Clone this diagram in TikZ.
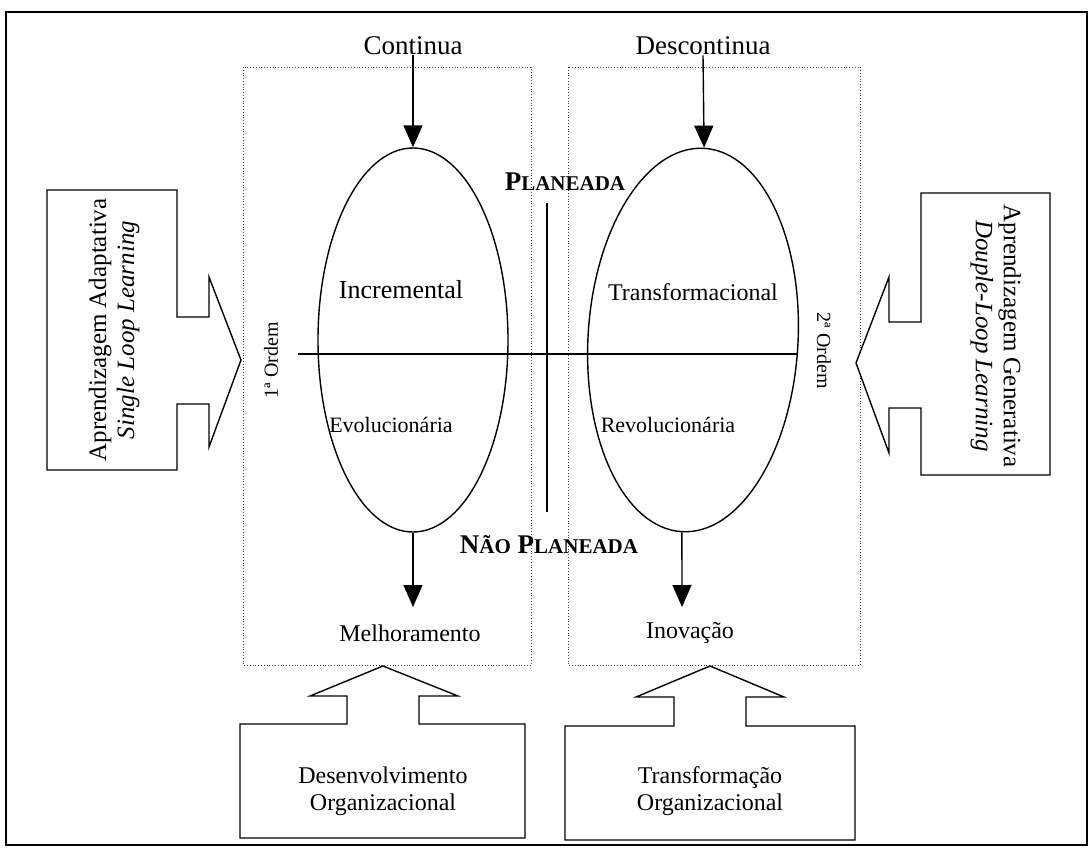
\documentclass[tikz,border=0pt]{standalone}
\usepackage{fontspec}
\setmainfont{Liberation Serif}
\usetikzlibrary{arrows.meta,shapes.geometric}
\begin{document}
\begin{tikzpicture}[x=1pt,y=-1pt,
  lbl/.style={font=\fontsize{24}{27}\selectfont, inner sep=0pt, align=center},
  big/.style={font=\fontsize{27}{30}\selectfont, inner sep=0pt},
  small/.style={font=\fontsize{20}{22}\selectfont, inner sep=0pt},
  zone/.style={draw=black!75, dotted, line width=0.8pt},
  oval/.style={ellipse, draw, line width=1.4pt, inner sep=0pt,
    minimum width=190pt, minimum height=384pt},
  flow/.style={line width=1.4pt, -{Triangle[length=22pt,width=19pt]}},
  block/.style={draw, line width=1.4pt, fill=white, line join=miter},
  axis/.style={line width=2pt}
]
\useasboundingbox (0,0) rectangle (1088,849);
\fill[white] (0,0) rectangle (1088,849);

% outer frame
\draw[line width=1.8pt] (6,12) rectangle (1087,845);

% the two dotted zones
\draw[zone] (243,67) rectangle (531,665);
\draw[zone] (568,67) rectangle (860,665);

% change type labels
\node[big] (cont) at (413,46) {Continua};
\node[big] (desc) at (703,46) {Descontinua};

% the two ovals
\node[oval] (le) at (413,340) {};
\node[oval, minimum width=210pt, rotate=-3.3] (re) at (693,340) {};

\draw[flow] (cont.south) -- (le.north);
\draw[flow] (desc.south) -- (re.north);

% labels inside the ovals
\node[lbl, font=\fontsize{26}{28}\selectfont] (inc) at (401,290) {Incremental};
\node[lbl, font=\fontsize{22}{24}\selectfont] (evo) at (391,425) {Evolucionária};
\node[lbl] (tra) at (693,292) {Transformacional};
\node[lbl, font=\fontsize{22}{24}\selectfont] (rev) at (668,425) {Revolucionária};

% order axis
\coordinate (axL) at (298,354);
\coordinate (axR) at (797,354);
\draw[axis] (axL) -- (axR);
\node[small, rotate=90] (o1) at (271,360) {1ª Ordem};
\node[small, rotate=-90] (o2) at (824,351) {2ª Ordem};

% planned / unplanned divider
\coordinate (pvT) at (547,203);
\coordinate (pvB) at (547,512);
\draw[line width=1.4pt] (pvT) -- (pvB);
\node[inner sep=0pt, font=\bfseries] (plan) at (565,182)
  {{\fontsize{27}{27}\selectfont P}{\fontsize{21}{21}\selectfont LANEADA}};
\node[inner sep=0pt, font=\bfseries] (nplan) at (549,545)
  {{\fontsize{27}{27}\selectfont N}{\fontsize{21}{21}\selectfont ÃO}%
   {\fontsize{27}{27}\selectfont\ P}{\fontsize{21}{21}\selectfont LANEADA}};

% outcomes
\node[lbl] (mel) at (410,633) {Melhoramento};
\node[lbl] (ino) at (690,633) {Inovação};
\coordinate (melT) at (413,607);
\coordinate (inoT) at (682,607);
\draw[flow] (le.south) -- (melT);
\draw[flow] (re.south) -- (inoT);

% learning block arrows, left and right
\draw[block] (47,190) -- (177,190) -- (177,317) -- (209,317) -- (209,277)
  -- (241,360) -- (209,447) -- (209,404) -- (177,404) -- (177,470)
  -- (47,470) -- cycle;
\node[lbl, font=\fontsize{25}{28}\selectfont, rotate=90] (single) at (114,330)
  {Aprendizagem Adaptativa\\ \itshape Single Loop Learning};

\draw[block] (1050,193) -- (921,193) -- (921,322) -- (889,322) -- (889,277)
  -- (856,363) -- (889,453) -- (889,408) -- (921,408) -- (921,475)
  -- (1050,475) -- cycle;
\node[lbl, font=\fontsize{25}{28}\selectfont, rotate=-90] (double) at (996,336)
  {Aprendizagem Generativa\\ \itshape Douple-Loop Learning};

% organisational block arrows at the bottom
\draw[block] (240,838) -- (240,724) -- (347,724) -- (347,696) -- (310,696)
  -- (383,666) -- (458,696) -- (419,696) -- (419,724) -- (525,724)
  -- (525,838) -- cycle;
\node[lbl] (dev) at (383,791) {Desenvolvimento\\Organizacional};

\draw[block] (565,840) -- (565,726) -- (674,726) -- (674,697) -- (636,697)
  -- (710,666) -- (784,697) -- (746,697) -- (746,726) -- (855,726)
  -- (855,840) -- cycle;
\node[lbl] (trf) at (710,791) {Transformação\\Organizacional};
\end{tikzpicture}
\end{document}
